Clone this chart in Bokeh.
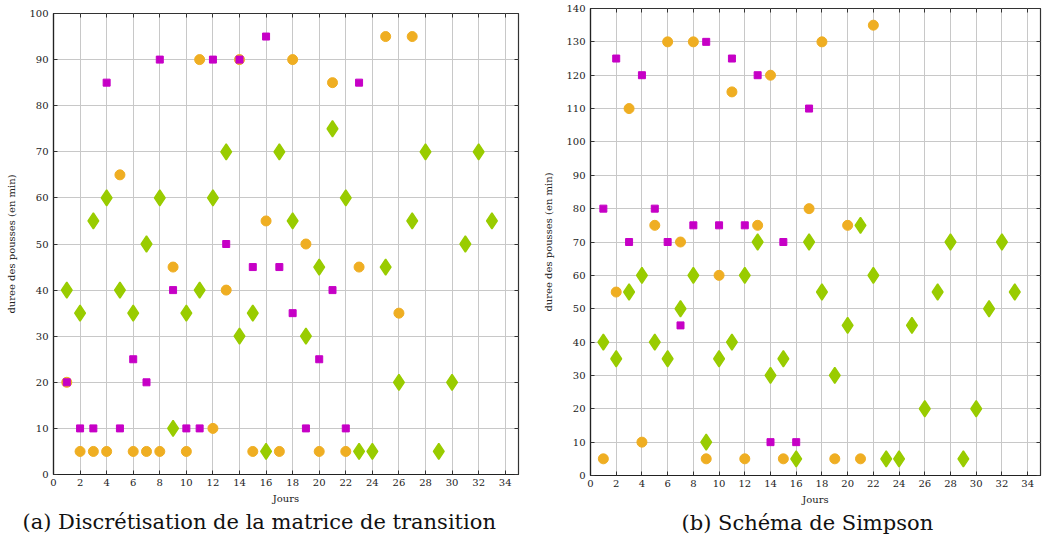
from bokeh.plotting import figure
from bokeh.layouts import row
from bokeh.models import (Range1d, LinearAxis, SingleIntervalTicker, Title,
                          CustomLabelingPolicy)
from bokeh.embed import file_html
from bokeh.resources import INLINE

# ---- data ----
green_days = list(range(1, 34))
green_vals = [40, 35, 55, 60, 40, 35, 50, 60, 10, 35, 40, 60, 70, 30, 35, 5, 70,
              55, 30, 45, 75, 60, 5, 5, 45, 20, 55, 70, 5, 20, 50, 70, 55]

a_orange_days = list(range(1, 24)) + [25, 26, 27]
a_orange_vals = [20, 5, 5, 5, 65, 5, 5, 5, 45, 5, 90, 10, 40, 90, 5, 55, 5, 90,
                 50, 5, 85, 5, 45, 95, 35, 95]
a_purple_days = list(range(1, 24))
a_purple_vals = [20, 10, 10, 85, 10, 25, 20, 90, 40, 10, 10, 90, 50, 90, 45, 95,
                 45, 35, 10, 25, 40, 10, 85]

b_orange_days = list(range(1, 16)) + [17, 18, 19, 20, 21, 22]
b_orange_vals = [5, 55, 110, 10, 75, 130, 70, 130, 5, 60, 115, 5, 75, 120, 5,
                 80, 130, 5, 75, 5, 135]
b_purple_days = list(range(1, 18))
b_purple_vals = [80, 125, 70, 120, 80, 70, 45, 75, 130, 75, 125, 75, 120, 10, 70,
                 10, 110]

captions = ["(a) Discrétisation de la matrice de transition", "(b) Schéma de Simpson"]
x_label = "Jours"
y_label = "duree des pousses (en min)"

ORANGE = "#efae22"
PURPLE = "#c600c6"
GREEN = "#99cc00"
FONT = "DejaVu Serif"
TXT = "#222222"

NO_LABELS = CustomLabelingPolicy(
    code="for (const i of Array.from(indices)) { indices.unset(i) } return indices")


def make(caption, ymax, fw, fh, mbl, mbr, mbt, cap_offset,
         o_days, o_vals, p_days, p_vals):
    p = figure(frame_width=fw, frame_height=fh,
               x_range=Range1d(0, 35), y_range=Range1d(0, ymax),
               output_backend="svg", toolbar_location=None,
               min_border_left=mbl, min_border_right=mbr,
               min_border_top=mbt, min_border_bottom=4)
    if "frame_align" in p.properties():
        p.frame_align = False
    p.outline_line_color = "#333333"
    p.outline_line_width = 1.2
    p.xaxis.ticker = SingleIntervalTicker(interval=2, num_minor_ticks=0)
    p.yaxis.ticker = SingleIntervalTicker(interval=10, num_minor_ticks=0)
    for ax in (p.xaxis[0], p.yaxis[0]):
        ax.major_tick_in = 4
        ax.major_tick_out = 0
        ax.minor_tick_line_color = None
        ax.major_tick_line_color = "#333333"
        ax.axis_line_color = "#222222"
        ax.axis_line_width = 1.2
        ax.major_label_text_font = FONT
        ax.major_label_text_font_size = "10px"
        ax.major_label_text_color = TXT
        ax.axis_label_text_font = FONT
        ax.axis_label_text_font_size = "10px"
        ax.axis_label_text_font_style = "normal"
        ax.axis_label_text_color = TXT
    p.xaxis.major_label_standoff = 4
    p.yaxis.major_label_standoff = 5
    p.xaxis.axis_label = x_label
    p.yaxis.axis_label = y_label
    p.xaxis.axis_label_standoff = 4
    p.yaxis.axis_label_standoff = 9
    for loc, tk in (("above", SingleIntervalTicker(interval=2, num_minor_ticks=0)),
                    ("right", SingleIntervalTicker(interval=10, num_minor_ticks=0))):
        ax = LinearAxis(ticker=tk, major_label_text_font_size="1px",
                        major_label_policy=NO_LABELS,
                        major_label_standoff=0, major_tick_in=4, major_tick_out=0,
                        minor_tick_line_color=None, axis_line_color=None,
                        major_tick_line_color="#333333")
        p.add_layout(ax, loc)
    p.xgrid.grid_line_color = "#c8c8c8"
    p.ygrid.grid_line_color = "#c8c8c8"

    p.scatter(o_days, o_vals, marker="circle", size=10, fill_color=ORANGE,
              line_color=ORANGE)
    p.scatter(p_days, p_vals, marker="square", size=7, fill_color=PURPLE,
              line_color=PURPLE)
    p.scatter(green_days, green_vals, marker="diamond", size=16, fill_color=GREEN,
              line_color=GREEN, line_width=1.5)

    t = Title(text=caption, align="left", offset=cap_offset,
              text_font=FONT, text_font_size="21px", text_font_style="normal",
              text_color="#111111", standoff=3)
    p.add_layout(t, "below")
    return p


p1 = make(captions[0], 100, 465, 461, 53, 17, 13, -31,
          a_orange_days, a_orange_vals, a_purple_days, a_purple_vals)
p2 = make(captions[1], 140, 450, 467, 55, 6, 8, 91,
          b_orange_days, b_orange_vals, b_purple_days, b_purple_vals)

layout = row(p1, p2, spacing=0)
open("out.html", "w").write(file_html(layout, INLINE))
